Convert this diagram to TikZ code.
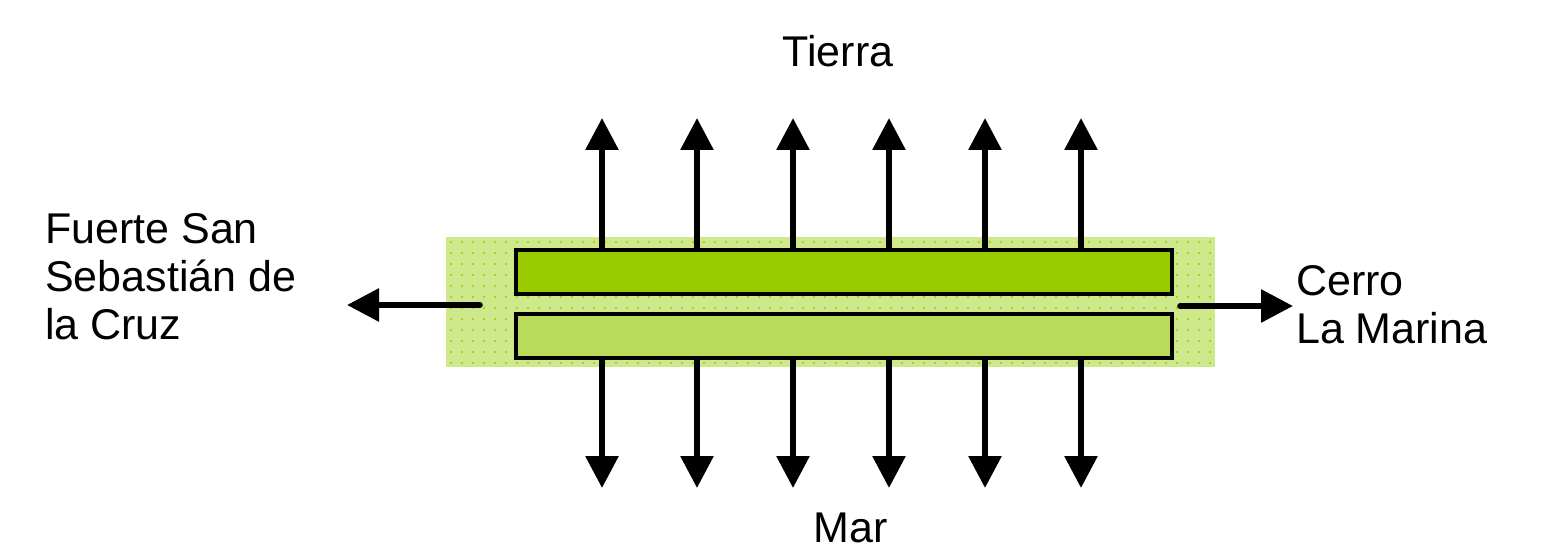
\documentclass[tikz,border=0pt]{standalone}
\usepackage{fontspec}
\setmainfont{Liberation Sans}
\usetikzlibrary{arrows.meta}
\definecolor{barGreen}{RGB}{153,204,0}
\definecolor{paleGreen}{RGB}{206,232,140}
\definecolor{midGreen}{RGB}{184,220,90}
\tikzset{
  zone/.style={draw=none, fill=paleGreen, minimum width=769pt, minimum height=130pt, inner sep=0pt},
  bar/.style={draw=black, line width=4pt, minimum width=656pt, minimum height=44pt, inner sep=0pt},
  flow/.style={line width=6pt, -{Triangle[length=32pt,width=32pt]}},
  lbl/.style={font=\fontsize{43}{48}\selectfont, inner sep=0pt, align=left}
}
\begin{document}
\begin{tikzpicture}[x=1pt,y=-1pt]
\useasboundingbox (0,0) rectangle (1542,548);
% shaded zone behind the two strips
\node[zone] (zone) at (830.5,302) {};
\begin{scope}
  \clip (446,237) rectangle (1215,367);
  \foreach \i in {0,...,70} {
    \foreach \j in {0,...,12} {
      \fill[barGreen] (451+\i*11,242+\j*11) circle (1.2pt);
    }
  }
\end{scope}
% upper and lower strips
\node[bar, fill=barGreen] (top) at (844,272) {};
\node[bar, fill=midGreen] (bot) at (844,335.5) {};
% vertical arrows towards land and sea
\foreach \x [count=\k] in {602,697,793,889,985,1081} {
  \coordinate (up\k) at (\x,118);
  \coordinate (dn\k) at (\x,488);
  \draw[flow] (top.north -| up\k) -- (up\k);
  \draw[flow] (bot.south -| dn\k) -- (dn\k);
}
% lateral arrows
\coordinate (west) at (347,305);
\coordinate (east) at (1293,306);
\draw[flow, line cap=round] (zone.west |- west) ++(34,0) -- (west);
\draw[flow, line cap=round] (zone.east |- east) ++(-35,0) -- (east);
% labels
\node[lbl, anchor=base] (tierra) at (838,67) {Tierra};
\node[lbl, anchor=base] (mar) at (851,542) {Mar};
\node[lbl, anchor=base west] (fuerte) at (45,339) {Fuerte San\\Sebastián de\\la Cruz};
\node[lbl, anchor=base west] (cerro) at (1296,343) {Cerro\\La Marina};
\end{tikzpicture}
\end{document}
